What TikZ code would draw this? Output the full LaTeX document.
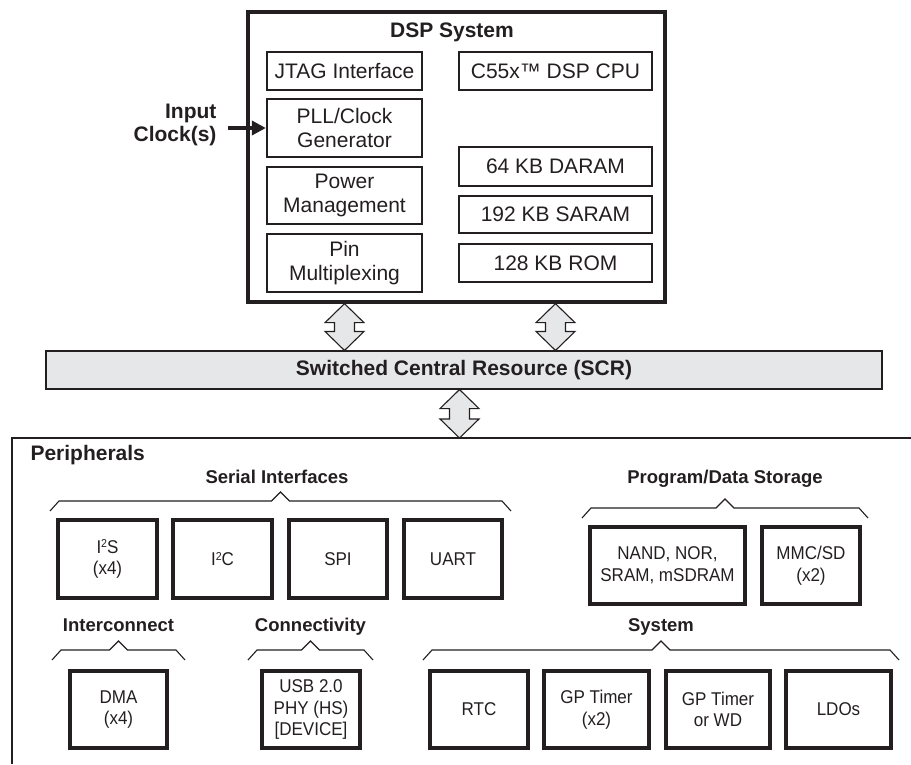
\documentclass[tikz,border=0pt]{standalone}
\usepackage{fontspec}
\setmainfont{Liberation Sans}
\newfontfamily\narrowsans[FakeStretch=0.92]{Liberation Sans}
\usetikzlibrary{arrows.meta,calc}

\definecolor{inkblack}{HTML}{231F20}
\definecolor{busgray}{HTML}{E6E7E8}

\newcommand{\dspfont}{\fontsize{21}{23.7}\selectfont}
\newcommand{\perfont}{\narrowsans\fontsize{18.5}{21.7}\selectfont}
\newcommand{\grpfont}{\bfseries\fontsize{18.5}{21}\selectfont}
\newcommand{\sqtwo}{\raisebox{5.5pt}{\fontsize{11.5}{11.5}\selectfont 2}}

% bracket over a group of peripherals: left x, right x, y of the bar
\newcommand{\grpbrace}[3]{%
  \draw[grpline] (#1,#3+10) -- (#1+9,#3) -- ({(#1+#2)/2-9},#3) -- ({(#1+#2)/2},#3-9)
    -- ({(#1+#2)/2+9},#3) -- (#2-9,#3) -- (#2,#3+10);}

% two-headed bus arrow: top tip, bottom tip
\newcommand{\busarrow}[2]{%
  \draw[bus] (#1) -- ++(-19.5,19) -- ++(9.5,0) -- ($(#2)+(-10,-19)$) -- ++(-9.5,0)
    -- (#2) -- ++(19.5,-19) -- ++(-9.5,0) -- ($(#1)+(10,19)$) -- ++(9.5,0) -- cycle;}

\begin{document}
\begin{tikzpicture}[
    x=1pt, y=-1pt, color=inkblack,
    dspframe/.style={draw, line width=3.3pt, minimum width=417pt, minimum height=290pt, inner sep=0},
    unit/.style={draw, line width=2.3pt, minimum height=38pt, align=center, inner sep=0, font=\dspfont},
    periph/.style={draw, line width=3.2pt, minimum height=77pt, align=center, inner sep=0, font=\perfont},
    grplabel/.style={anchor=base, font=\grpfont},
    grpline/.style={draw, line width=1.1pt},
    bus/.style={draw, line width=1.1pt, fill=busgray, line join=miter}
  ]
    \useasboundingbox (0,0) rectangle (911,764);

    % DSP system
    \node[dspframe] (dsp) at (456.5,157) {};
    \node[font=\bfseries\dspfont] (dsptitle) at (452,32) {DSP System};
    \node[unit, minimum width=155pt] (jtag) at (344.5,71) {JTAG Interface};
    \node[unit, minimum width=155pt, minimum height=58pt] (pll) at (344.5,128) {PLL/Clock\\Generator};
    \node[unit, minimum width=155pt, minimum height=57pt] (power) at (344.5,195.5) {Power\\Management};
    \node[unit, minimum width=155pt, minimum height=58pt] (pinmux) at (344.5,263) {Pin\\Multiplexing};
    \node[unit, minimum width=193pt] (cpu) at (555.5,71) {C55x™ DSP CPU};
    \node[unit, minimum width=193pt, minimum height=39pt] (daram) at (555.5,166.5) {64 KB DARAM};
    \node[unit, minimum width=193pt, minimum height=37pt] (saram) at (555.5,214.5) {192 KB SARAM};
    \node[unit, minimum width=193pt] (rom) at (555.5,263) {128 KB ROM};

    % Input clock
    \node[anchor=east, align=right, font=\bfseries\dspfont] (clkin) at (220,125) {Input\\Clock(s)};
    \coordinate (clkstart) at (228,128);
    \draw[line width=4.5pt, -{Triangle[length=14pt,width=14pt]}] (clkstart) -- (pll.west);

    % SCR
    \node[draw, line width=1.1pt, fill=busgray, minimum width=836pt, minimum height=38pt,
      font=\bfseries\dspfont] (scr) at (464,370) {Switched Central Resource (SCR)};

    % Peripherals frame
    \draw[line width=2.7pt] (911,438) -- (12,438) -- (12,764);
    \coordinate (periph) at (459.5,438);
    \node[anchor=base west, font=\bfseries\dspfont] (perlabel) at (27,460) {Peripherals};

    % Bus arrows
    \coordinate (bus1top) at (jtag.center |- dsp.south);
    \coordinate (bus1bot) at (jtag.center |- scr.north);
    \coordinate (bus2top) at (cpu.center |- dsp.south);
    \coordinate (bus2bot) at (cpu.center |- scr.north);
    \coordinate (bus3top) at (periph |- scr.south);
    \busarrow{bus1top}{bus1bot}
    \busarrow{bus2top}{bus2bot}
    \busarrow{bus3top}{periph}

    % Serial interfaces
    \grpbrace{50}{511}{501}
    \node[grplabel] (serial) at (277,483) {Serial Interfaces};
    \node[periph, minimum width=99pt, minimum height=78pt] (i2s) at (107.5,559) {I\sqtwo S\\(x4)};
    \node[periph, minimum width=99pt, minimum height=78pt] (i2c) at (222.5,559) {I\sqtwo C};
    \node[periph, minimum width=98pt, minimum height=78pt] (spi) at (338,559) {SPI};
    \node[periph, minimum width=98pt, minimum height=78pt] (uart) at (453,559) {UART};

    % Program/data storage
    \grpbrace{582}{868}{508}
    \node[grplabel] (storage) at (725,483) {Program/Data Storage};
    \node[periph, minimum width=155pt] (nand) at (667.5,565.5) {NAND, NOR,\\SRAM, mSDRAM};
    \node[periph, minimum width=98pt] (mmc) at (811,565.5) {MMC/SD\\(x2)};

    % Interconnect
    \grpbrace{52}{185}{650}
    \node[grplabel] (interconnect) at (118.5,631) {Interconnect};
    \node[periph, minimum width=97pt] (dma) at (118.5,709.5) {DMA\\(x4)};

    % Connectivity
    \grpbrace{248}{373}{650}
    \node[grplabel] (connectivity) at (310.5,631) {Connectivity};
    \node[periph, minimum width=98pt] (usb) at (311,709.5) {USB 2.0\\PHY (HS)\\{[DEVICE]}};

    % System
    \grpbrace{423}{899}{650}
    \node[grplabel] (system) at (661,631) {System};
    \node[periph, minimum width=98pt] (rtc) at (479,709.5) {RTC};
    \node[periph, minimum width=105pt] (gptimer) at (596.5,709.5) {GP Timer\\(x2)};
    \node[periph, minimum width=104pt] (wdtimer) at (718,709.5) {GP Timer\\or WD};
    \node[periph, minimum width=105pt] (ldo) at (838.5,709.5) {LDOs};

  \end{tikzpicture}
\end{document}
